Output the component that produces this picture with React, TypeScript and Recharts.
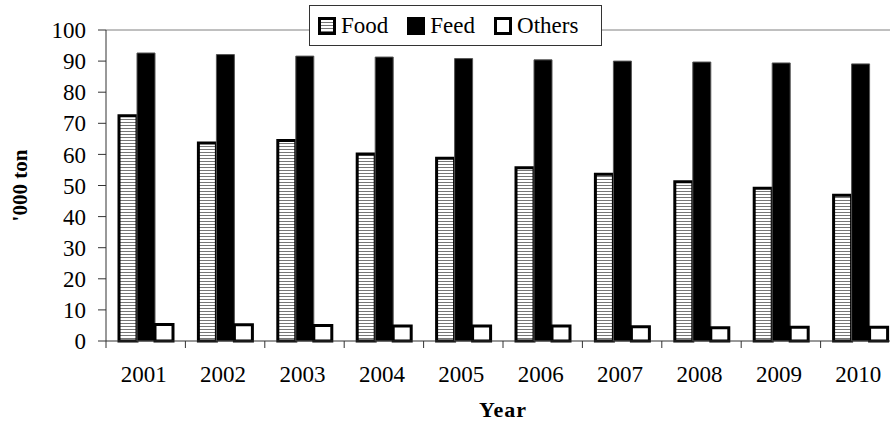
import { Bar, BarChart, Legend, ReferenceLine, XAxis, YAxis } from "recharts";

const YEARS = ["2001", "2002", "2003", "2004", "2005", "2006", "2007", "2008", "2009", "2010"];
const FOOD = [72.4, 63.7, 64.5, 60.1, 58.8, 55.7, 53.6, 51.2, 49.1, 46.9];
const FEED = [92.6, 92.1, 91.6, 91.3, 90.8, 90.4, 90.0, 89.7, 89.4, 89.1];
const OTHERS = [5.3, 5.2, 5.0, 4.8, 4.8, 4.8, 4.6, 4.3, 4.4, 4.4];
const Y_TICKS = [0, 10, 20, 30, 40, 50, 60, 70, 80, 90, 100];
const SERIES_ORDER = ["food", "feed", "others"];

const FONT = "Liberation Serif";
const AXIS_COLOR = "#333";

const data = YEARS.map((year, i) => ({
  year,
  food: FOOD[i],
  feed: FEED[i],
  others: OTHERS[i],
}));

// year label under each band, tick mark on the band's left edge
function YearTick(props: any) {
  const { x, y, payload } = props;
  const left = x - (payload.offset ?? 0);
  return (
    <g>
      <line x1={left} y1={y} x2={left} y2={y + 7} stroke={AXIS_COLOR} strokeWidth={1} />
      <text
        x={x - 2}
        y={y + 41}
        textAnchor="middle"
        style={{ fontFamily: FONT, fontSize: 23 }}
        fill="#000"
      >
        {payload.value}
      </text>
    </g>
  );
}

function Swatch({ kind }: { kind: string }) {
  const style: React.CSSProperties = {
    display: "inline-block",
    width: 18,
    height: 18,
    boxSizing: "border-box",
    marginRight: 5,
  };
  if (kind === "food") {
    return (
      <span
        style={{
          ...style,
          border: "3px solid #000",
          background: "repeating-linear-gradient(#fff 0 2px, #777 2px 3px)",
        }}
      />
    );
  }
  if (kind === "feed") {
    return <span style={{ ...style, background: "#000" }} />;
  }
  return <span style={{ ...style, border: "3px solid #000", background: "#fff" }} />;
}

function BoxLegend({ payload }: any) {
  const items = [...(payload ?? [])].sort(
    (a: any, b: any) => SERIES_ORDER.indexOf(a.dataKey) - SERIES_ORDER.indexOf(b.dataKey)
  );
  return (
    <div
      style={{
        width: 293,
        height: 41,
        boxSizing: "border-box",
        border: "1px solid #333",
        background: "#fff",
        display: "flex",
        alignItems: "center",
        paddingLeft: 8,
        fontFamily: FONT,
        fontSize: 23,
        color: "#000",
      }}
    >
      {items.map((entry: any) => (
        <span
          key={entry.dataKey}
          style={{ display: "inline-flex", alignItems: "center", marginRight: 19 }}
        >
          <Swatch kind={entry.dataKey} />
          {entry.value}
        </span>
      ))}
    </div>
  );
}

export default function App() {
  return (
    <div
      style={{
        position: "fixed",
        left: 0,
        top: 0,
        width: 890,
        height: 422,
        overflow: "hidden",
        background: "#fff",
      }}
    >
      <BarChart
        width={910}
        height={422}
        data={data}
        margin={{ top: 30, right: 10, left: 0, bottom: 0 }}
        barCategoryGap={13}
        barGap={0}
      >
        <defs>
          <pattern id="foodStripes" width={4} height={3} patternUnits="userSpaceOnUse">
            <rect width={4} height={3} fill="#fff" />
            <rect y={2} width={4} height={1} fill="#777" />
          </pattern>
        </defs>
        <ReferenceLine y={100} stroke="#808080" strokeWidth={1} />
        <XAxis
          dataKey="year"
          interval={0}
          tickSize={0}
          tickMargin={0}
          tickLine={false}
          tick={<YearTick />}
          axisLine={{ stroke: AXIS_COLOR }}
          height={81}
          label={{
            value: "Year",
            position: "insideBottom",
            offset: 5,
            style: { fontFamily: FONT, fontSize: 22, fontWeight: "bold", letterSpacing: 1 },
            fill: "#000",
          }}
        />
        <YAxis
          domain={[0, 100]}
          ticks={Y_TICKS}
          interval={0}
          width={106}
          tickSize={8}
          tickMargin={12}
          axisLine={{ stroke: AXIS_COLOR }}
          tickLine={{ stroke: AXIS_COLOR }}
          tick={{ fill: "#000", style: { fontFamily: FONT, fontSize: 23 } }}
          label={{
            value: "'000 ton",
            angle: -90,
            position: "insideLeft",
            offset: 20,
            style: { textAnchor: "middle", fontFamily: FONT, fontSize: 21, fontWeight: "bold" },
            fill: "#000",
          }}
        />
        <Legend
          verticalAlign="middle"
          align="center"
          content={<BoxLegend />}
          wrapperStyle={{ position: "absolute", left: 309, top: 5, width: 293, height: 41 }}
        />
        <Bar
          dataKey="food"
          name="Food"
          fill="url(#foodStripes)"
          stroke="#000"
          strokeWidth={3}
          isAnimationActive={false}
        />
        <Bar
          dataKey="feed"
          name="Feed"
          fill="#000"
          stroke="#555"
          strokeWidth={1}
          isAnimationActive={false}
        />
        <Bar
          dataKey="others"
          name="Others"
          fill="#fff"
          stroke="#000"
          strokeWidth={3}
          isAnimationActive={false}
        />
      </BarChart>
    </div>
  );
}
